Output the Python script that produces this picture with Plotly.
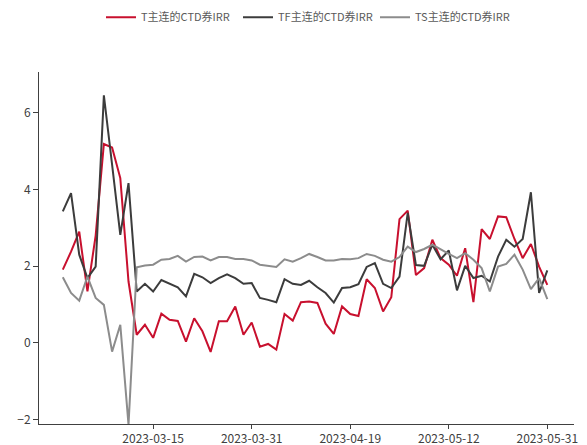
import plotly.graph_objects as go

dates = [
    "2023-02-28", "2023-03-01", "2023-03-02", "2023-03-03", "2023-03-06", "2023-03-07",
    "2023-03-08", "2023-03-09", "2023-03-10", "2023-03-13", "2023-03-14", "2023-03-15",
    "2023-03-16", "2023-03-17", "2023-03-20", "2023-03-21", "2023-03-22", "2023-03-23",
    "2023-03-24", "2023-03-27", "2023-03-28", "2023-03-29", "2023-03-30", "2023-03-31",
    "2023-04-03", "2023-04-04", "2023-04-06", "2023-04-07", "2023-04-10", "2023-04-11",
    "2023-04-12", "2023-04-13", "2023-04-14", "2023-04-17", "2023-04-18", "2023-04-19",
    "2023-04-20", "2023-04-21", "2023-04-24", "2023-04-25", "2023-04-26", "2023-04-27",
    "2023-04-28", "2023-05-08", "2023-05-09", "2023-05-10", "2023-05-11", "2023-05-12",
    "2023-05-15", "2023-05-16", "2023-05-17", "2023-05-18", "2023-05-19", "2023-05-22",
    "2023-05-23", "2023-05-24", "2023-05-25", "2023-05-29", "2023-05-30", "2023-05-31",
]

t_irr = [
    1.91, 2.38, 2.90, 1.34, 2.80, 5.19, 5.10, 4.30, 1.60, 0.21,
    0.47, 0.13, 0.76, 0.60, 0.57, 0.03, 0.64, 0.30, -0.24, 0.56,
    0.56, 0.95, 0.21, 0.53, -0.10, -0.03, -0.18, 0.75, 0.58, 1.06,
    1.08, 1.04, 0.50, 0.23, 0.95, 0.75, 0.70, 1.66, 1.43, 0.82,
    1.19, 3.23, 3.45, 1.77, 1.95, 2.69, 2.21, 2.04, 1.75, 2.47,
    1.06, 2.97, 2.71, 3.30, 3.28, 2.71, 2.21, 2.58, 1.99, 1.51,
]

tf_irr = [
    3.43, 3.91, 2.30, 1.69, 1.99, 6.46, 4.65, 2.82, 4.17, 1.34,
    1.54, 1.34, 1.64, 1.54, 1.45, 1.21, 1.80, 1.71, 1.56, 1.69,
    1.79, 1.69, 1.54, 1.56, 1.17, 1.12, 1.06, 1.66, 1.54, 1.51,
    1.62, 1.45, 1.30, 1.05, 1.43, 1.45, 1.53, 1.98, 2.08, 1.54,
    1.43, 1.73, 3.39, 2.03, 2.01, 2.56, 2.18, 2.41, 1.37, 2.01,
    1.69, 1.75, 1.60, 2.25, 2.69, 2.51, 2.71, 3.93, 1.30, 1.89,
]

ts_irr = [
    1.71, 1.30, 1.10, 1.73, 1.17, 0.99, -0.23, 0.47, -2.14, 1.97,
    2.02, 2.04, 2.17, 2.19, 2.27, 2.12, 2.24, 2.25, 2.15, 2.24,
    2.24, 2.19, 2.19, 2.15, 2.04, 2.01, 1.98, 2.18, 2.12, 2.21,
    2.32, 2.24, 2.15, 2.15, 2.19, 2.18, 2.21, 2.32, 2.27, 2.17,
    2.12, 2.24, 2.51, 2.37, 2.45, 2.56, 2.43, 2.32, 2.21, 2.34,
    2.17, 1.95, 1.34, 1.99, 2.06, 2.30, 1.91, 1.40, 1.69, 1.14,
]

series_names = ["T主连的CTD券IRR", "TF主连的CTD券IRR", "TS主连的CTD券IRR"]
series_colors = ["#c8102e", "#3c3c3c", "#8c8c8c"]
tick_dates = ["2023-03-15", "2023-03-31", "2023-04-19", "2023-05-12", "2023-05-31"]
y_ticks = [-2, 0, 2, 4, 6]

font_family = "Noto Sans CJK SC, Noto Sans, sans-serif"

fig = go.Figure()
for name, vals, col in zip(series_names, [t_irr, tf_irr, ts_irr], series_colors):
    fig.add_trace(go.Scatter(
        x=dates, y=vals, mode="lines", name=name,
        line=dict(color=col, width=2),
    ))

# page body has an 8px margin, so the figure is 8px smaller than the window
fig.update_layout(
    width=579, height=437,
    margin=dict(l=31, r=13, t=64, b=21, autoexpand=False),
    paper_bgcolor="white", plot_bgcolor="white",
    font=dict(family=font_family, size=12, color="#404040"),
    legend=dict(
        orientation="h", x=0.5, xanchor="center",
        yref="container", y=0.979, yanchor="middle",
        font=dict(size=11, color="#595959"),
        bgcolor="rgba(0,0,0,0)",
        entrywidth=92, entrywidthmode="pixels",
    ),
    showlegend=True,
)

fig.update_xaxes(
    type="category", categoryorder="array", categoryarray=dates,
    range=[-2.9, 62.25],
    tickmode="array", tickvals=tick_dates, ticktext=tick_dates,
    showline=True, linecolor="#404040", linewidth=1,
    ticks="outside", ticklen=4, tickcolor="#404040",
    showgrid=False, zeroline=False,
    tickfont=dict(size=12, color="#404040"),
    automargin=False,
)
fig.update_yaxes(
    range=[-2.12, 7.07],
    tickmode="array", tickvals=y_ticks,
    showline=True, linecolor="#404040", linewidth=1,
    ticks="outside", ticklen=5, tickcolor="#404040",
    showgrid=False, zeroline=False,
    tickfont=dict(size=12, color="#404040"),
    automargin=False,
)

fig.write_html("out.html")
